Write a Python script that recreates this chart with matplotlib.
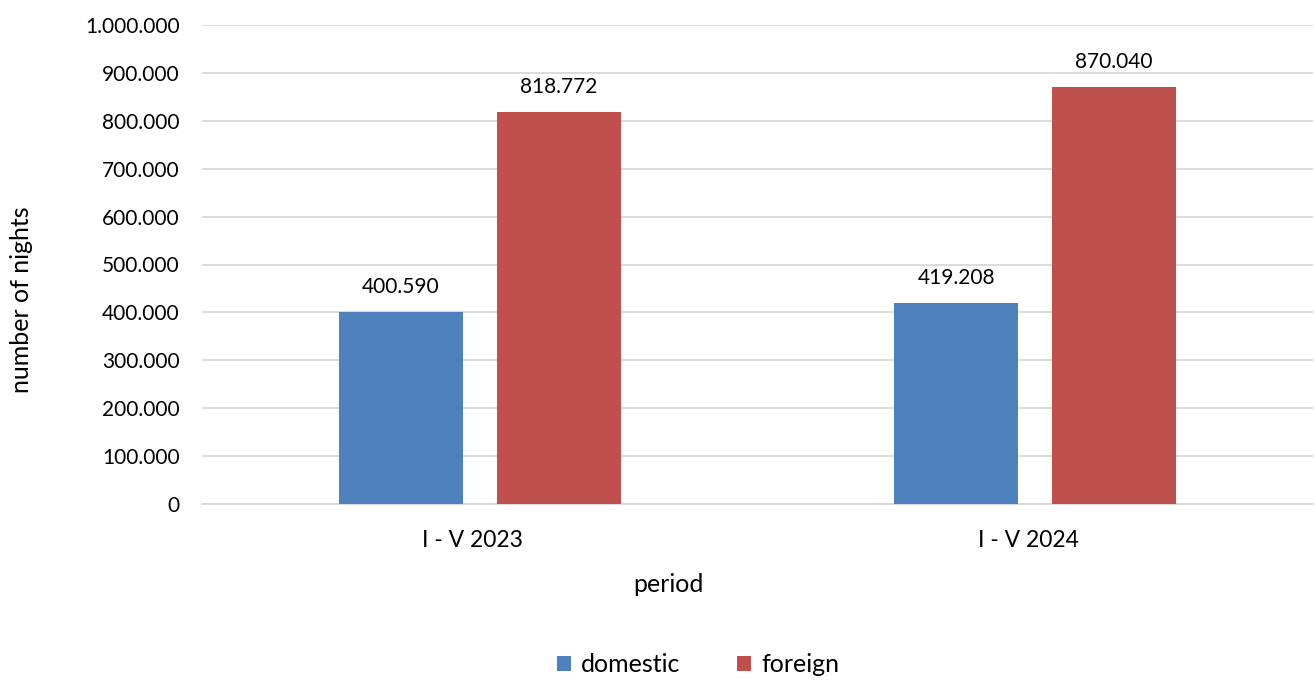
import matplotlib
matplotlib.use("Agg")
import matplotlib.pyplot as plt
import matplotlib.transforms as mtransforms
from matplotlib.ticker import FuncFormatter
from matplotlib.patches import Patch
import numpy as np

categories = ["I - V 2023", "I - V 2024"]
domestic = [400590, 419208]
foreign = [818772, 870040]
series_names = ["domestic", "foreign"]

plt.rcParams['font.family'] = ['Lato', 'DejaVu Sans']
BLUE = "#4F81BD"
RED = "#C0504D"
GRID = "#D9D9D9"
TXT = "#000000"
FS = 15
FSL = 18

fig = plt.figure(figsize=(13.15, 6.8), dpi=100)
ax = fig.add_axes([202/1315, 1-504/680, 1111/1315, 479/680])

x = np.arange(len(categories))
w = 0.223
off = 0.142
b1 = ax.bar(x - off, domestic, w, color=BLUE, zorder=3)
b2 = ax.bar(x + off, foreign, w, color=RED, zorder=3)

def fmt(v, pos=None):
    return f"{int(v):,}".replace(",", ".")

for bars, vals in ((b1, domestic), (b2, foreign)):
    for r, v in zip(bars, vals):
        ax.annotate(fmt(v), (r.get_x() + r.get_width()/2, v), xytext=(0, 11),
                    textcoords="offset points", ha="center", va="bottom",
                    fontsize=FS, color=TXT)

ax.set_xlim(-0.5, 1.5)
ax.set_ylim(0, 1000000)
ax.set_yticks(np.arange(0, 1000001, 100000))
ax.yaxis.set_major_formatter(FuncFormatter(fmt))
ax.set_xticks(x)
ax.set_xticklabels(categories)
ax.tick_params(axis='both', length=0, labelsize=FS, colors=TXT)
ax.tick_params(axis='x', labelsize=16.5, pad=19)
ax.tick_params(axis='y', pad=16)
shift = mtransforms.ScaledTranslation(-7/100, 0, fig.dpi_scale_trans)
for lbl in ax.get_xticklabels():
    lbl.set_transform(lbl.get_transform() + shift)
ax.grid(axis='y', color=GRID, linewidth=1.3, zorder=0)
for s in ["top", "right", "left"]:
    ax.spines[s].set_visible(False)
ax.spines["bottom"].set_color(GRID)
ax.spines["bottom"].set_linewidth(1.3)

fig.text(668/1315, 1-585/680, "period", ha="center", va="center", fontsize=FSL, color=TXT)
fig.text(22/1315, 1-300/680, "number of nights", ha="center", va="center", rotation=90,
         fontsize=FSL, color=TXT)

handles = [Patch(facecolor=BLUE), Patch(facecolor=RED)]
fig.legend(handles, series_names, loc="center", bbox_to_anchor=(698/1315, 1-665/680),
           ncol=2, frameon=False, fontsize=FSL, handlelength=0.55, handleheight=0.55,
           handletextpad=0.4, columnspacing=2.3)

fig.savefig("out.png", dpi=100)
